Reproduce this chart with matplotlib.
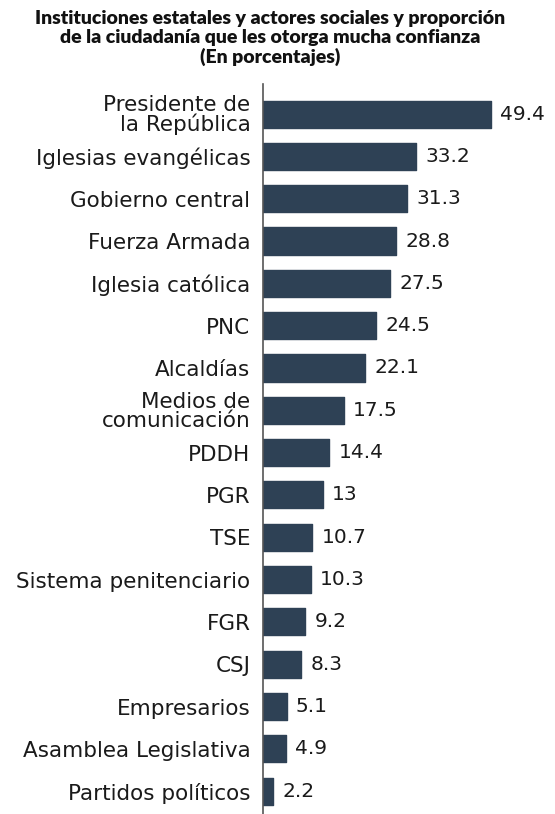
import matplotlib
matplotlib.use("Agg")
import matplotlib.pyplot as plt

categories = ["Presidente de\nla República", "Iglesias evangélicas", "Gobierno central",
              "Fuerza Armada", "Iglesia católica", "PNC", "Alcaldías",
              "Medios de\ncomunicación", "PDDH", "PGR", "TSE", "Sistema penitenciario",
              "FGR", "CSJ", "Empresarios", "Asamblea Legislativa", "Partidos políticos"]
values = [49.4, 33.2, 31.3, 28.8, 27.5, 24.5, 22.1, 17.5, 14.4, 13, 10.7, 10.3,
          9.2, 8.3, 5.1, 4.9, 2.2]
value_labels = ["49.4", "33.2", "31.3", "28.8", "27.5", "24.5", "22.1", "17.5", "14.4",
                "13", "10.7", "10.3", "9.2", "8.3", "5.1", "4.9", "2.2"]
title = ("Instituciones estatales y actores sociales y proporción\n"
         "de la ciudadanía que les otorga mucha confianza\n(En porcentajes)")

W, H = 555, 814
fig = plt.figure(figsize=(W / 100, H / 100), dpi=100)
ax = fig.add_axes([263 / W, 0, 1 - 263 / W, (814 - 84) / H])

bar_color = "#2E4155"
ys = list(range(len(categories)))
ax.barh(ys, values, height=0.64, color=bar_color, edgecolor=bar_color,
        linewidth=1.0, joinstyle="round")

for y, v, lab in zip(ys, values, value_labels):
    ax.text(v + 2.0, y, lab, va="center", ha="left", fontsize=14.5,
            family="DejaVu Sans", color="#1a1a1a")

ax.set_yticks(ys)
ax.set_yticklabels(categories, fontsize=15.5, family="DejaVu Sans", color="#1a1a1a",
                   linespacing=0.9)
ax.tick_params(axis="y", length=0, pad=9)
ax.set_xticks([])
ax.set_xlim(0, (W - 263) / 4.615)
ax.set_ylim(16 + 0.54, -0.71)
for s in ["top", "right", "bottom"]:
    ax.spines[s].set_visible(False)
ax.spines["left"].set_color("#555555")
ax.spines["left"].set_linewidth(1.2)

fig.text(270 / W, 1 - 38 / H, title, ha="center", va="center", fontsize=14,
         family="Lato", fontweight="heavy", linespacing=1.1, color="#111111")

fig.savefig("out.png", dpi=100)
